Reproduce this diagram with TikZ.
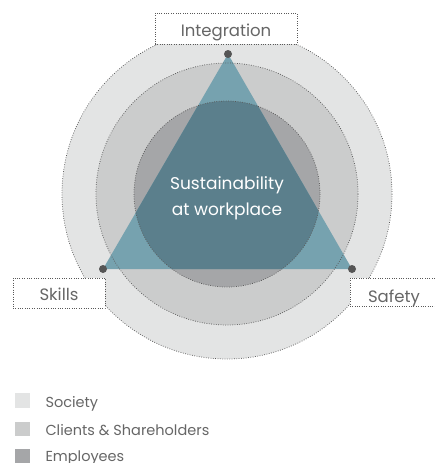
\documentclass[tikz,border=0pt]{standalone}
\usepackage{fontspec}
\setmainfont{Poppins}
\definecolor{society}{HTML}{E3E4E4}
\definecolor{clients}{HTML}{CBCCCC}
\definecolor{employees}{HTML}{A5A6A8}
\definecolor{tealLight}{HTML}{76A2AF}
\definecolor{tealDark}{HTML}{5B7F8C}
\definecolor{labelgray}{HTML}{666666}
\definecolor{dotgray}{HTML}{555555}
\begin{document}
\begin{tikzpicture}[x=1pt, y=-1pt,
    ring/.style = {draw=gray!70!black, line width=0.75pt, dash pattern=on 0.75pt off 1.6pt},
    labelbox/.style = {ring, fill=white, inner sep=0pt, text=labelgray, font=\fontsize{16.5}{18}\selectfont},
    corner/.style = {circle, fill=dotgray, inner sep=0pt, minimum size=8pt},
    legendbox/.style = {rectangle, inner sep=0pt, minimum size=14.5pt},
    legendtext/.style = {anchor=base west, text=labelgray, font=\fontsize{14.5}{16}\selectfont}
]
\useasboundingbox (0,0) rectangle (435,463);

\coordinate (M) at (227,194);
\coordinate (top) at (228,54);
\coordinate (left) at (103,269);
\coordinate (right) at (352,269);

% rings
\fill[society] (M) circle (165);
\fill[clients] (M) circle (131);
\fill[employees] (M) circle (93);

% triangle
\fill[tealLight] (top) -- (left) -- (right) -- cycle;
\begin{scope}
  \clip (M) circle (93);
  \fill[tealDark] (top) -- (left) -- (right) -- cycle;
\end{scope}

\draw[ring] (M) circle (165);
\draw[ring] (M) circle (131);
\draw[ring] (M) circle (93);

\node[text=white, align=center, font=\fontsize{17}{26}\selectfont] (core) at (227,198) {Sustainability\\at workplace};

% labels
\node[labelbox, minimum width=142pt, text height=23pt, text depth=8pt] (integ) at (226,28.5) {Integration};
\node[labelbox, minimum width=92pt, text height=22pt, text depth=8pt] (skills) at (59,293) {Skills};
\node[labelbox, minimum width=100pt, text height=24.5pt, text depth=3.5pt, text width=80pt, align=left] (safety) at (400,292) {\hspace*{8pt}Safety};

\node[corner] (dtop) at (top) {};
\node[corner] (dleft) at (left) {};
\node[corner] (dright) at (right) {};

% legend
\node[legendbox, fill=society] (ls) at (22.5,400.5) {};
\node[legendbox, fill=clients] (lc) at (22.5,429) {};
\node[legendbox, fill=employees] (le) at (22.5,456.5) {};
\node[legendtext] (ts) at (42,407.5) {Society};
\node[legendtext] (tc) at (42,435) {Clients \& Shareholders};
\node[legendtext] (te) at (42,461.5) {Employees};
\end{tikzpicture}
\end{document}
